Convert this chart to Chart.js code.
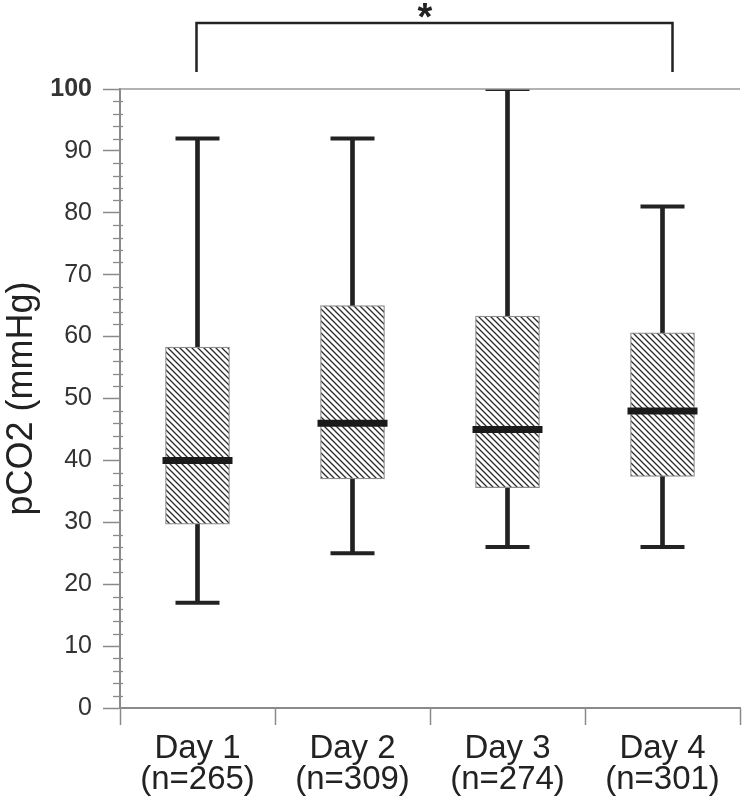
<!DOCTYPE html>
<html>
<head>
<meta charset="utf-8">
<script src="https://cdn.jsdelivr.net/npm/chart.js@4/dist/chart.umd.min.js"></script>
<style>
html,body{margin:0;padding:0;background:#fff;}
#wrap{width:742px;height:800px;position:relative;}
</style>
</head>
<body>
<div id="wrap"><canvas id="c" width="742" height="800"></canvas></div>
<script>
// ---- data ----
const categories = ['Day 1', 'Day 2', 'Day 3', 'Day 4'];
const nCounts = [265, 309, 274, 301];
const minValues = [17, 25, 26, 26];
const q1Values = [29.7, 37, 35.6, 37.4];
const medianValues = [40, 46, 45, 48];
const q3Values = [58.3, 65, 63.3, 60.6];
const maxValues = [92, 92, 100, 81];
const yTicks = [0, 10, 20, 30, 40, 50, 60, 70, 80, 90, 100];
const significanceLabel = '*';

// ---- helpers ----
function hatchPattern() {
  const s = 6;
  const c = document.createElement('canvas');
  c.width = s; c.height = s;
  const g = c.getContext('2d');
  g.fillStyle = '#ffffff';
  g.fillRect(0, 0, s, s);
  g.strokeStyle = '#2a2a2a';
  g.lineWidth = 1.3;
  g.beginPath();
  g.moveTo(-1, -1); g.lineTo(s + 1, s + 1);
  g.moveTo(-s - 1, -1); g.lineTo(1, s + 1);
  g.moveTo(s - 1, -1); g.lineTo(2 * s + 1, s + 1);
  g.stroke();
  return g.createPattern(c, 'repeat');
}

const xLabels = categories.map((c, i) => [c, '(n=' + nCounts[i] + ')']);
const whiskerRanges = categories.map((c, i) => [minValues[i], maxValues[i]]);
const boxRanges = categories.map((c, i) => [q1Values[i], q3Values[i]]);

const extras = {
  id: 'extras',
  afterDraw(chart) {
    const { ctx, chartArea: a, scales: { x, y } } = chart;
    ctx.save();
    // minor ticks on y axis
    ctx.strokeStyle = '#8a8a8a';
    ctx.lineWidth = 1.3;
    for (let v = 2; v < 100; v += 2) {
      if (v % 10 === 0) continue;
      const py = Math.round(y.getPixelForValue(v)) + 0.5;
      ctx.beginPath();
      ctx.moveTo(a.left - 7, py);
      ctx.lineTo(a.left + 3, py);
      ctx.stroke();
    }
    // top frame line
    ctx.strokeStyle = '#999';
    ctx.lineWidth = 1.5;
    ctx.beginPath();
    ctx.moveTo(a.left, a.top);
    ctx.lineTo(a.right, a.top);
    ctx.stroke();
    // significance bracket
    const x1 = x.getPixelForValue(0) - 1;
    const x2 = x.getPixelForValue(3) + 10;
    const yb = 23, yl = 72;
    ctx.strokeStyle = '#222';
    ctx.lineWidth = 2.5;
    ctx.beginPath();
    ctx.moveTo(x1, yl);
    ctx.lineTo(x1, yb);
    ctx.lineTo(x2, yb);
    ctx.lineTo(x2, yl);
    ctx.stroke();
    ctx.fillStyle = '#222';
    ctx.font = 'bold 38px "Liberation Sans", Arial, sans-serif';
    ctx.textAlign = 'center';
    ctx.textBaseline = 'alphabetic';
    ctx.fillText(significanceLabel, x1 + (x2 - x1) * 0.48, 30);
    ctx.restore();
  }
};

Chart.defaults.font.family = '"Liberation Sans", Arial, sans-serif';

new Chart(document.getElementById('c'), {
  data: {
    labels: xLabels,
    datasets: [
      {
        type: 'bar',
        label: 'whisker',
        data: whiskerRanges,
        backgroundColor: '#222',
        borderWidth: 0,
        barThickness: 4,
        grouped: false,
        order: 4
      },
      {
        type: 'bar',
        label: 'box',
        data: boxRanges,
        backgroundColor: hatchPattern(),
        borderColor: '#8c8c8c',
        borderWidth: 1.2,
        borderSkipped: false,
        barThickness: 64,
        grouped: false,
        order: 3
      },
      {
        type: 'line',
        label: 'min',
        data: minValues,
        showLine: false,
        pointStyle: 'line',
        pointRadius: 22,
        pointBorderWidth: 4,
        pointBorderColor: '#222',
        order: 2
      },
      {
        type: 'line',
        label: 'max',
        data: maxValues,
        showLine: false,
        pointStyle: 'line',
        pointRadius: 22,
        pointBorderWidth: 4,
        pointBorderColor: '#222',
        order: 2
      },
      {
        type: 'line',
        label: 'median',
        data: medianValues,
        showLine: false,
        pointStyle: 'line',
        pointRadius: 35,
        pointBorderWidth: 7,
        pointBorderColor: '#1a1a1a',
        order: 1
      }
    ]
  },
  options: {
    responsive: false,
    animation: false,
    layout: { autoPadding: false, padding: { top: 89, right: 2, left: 0, bottom: 0 } },
    plugins: { legend: { display: false }, tooltip: { enabled: false } },
    scales: {
      x: {
        type: 'category',
        offset: true,
        grid: {
          offset: true,
          drawOnChartArea: false,
          tickLength: 17,
          tickColor: '#8a8a8a',
          tickWidth: 1.5
        },
        border: { color: '#8a8a8a', width: 2 },
        ticks: {
          color: '#222',
          padding: 9,
          maxRotation: 0,
          autoSkip: false,
          font: { size: 33, lineHeight: 0.93 }
        },
        afterFit(scale) {
          scale.height = 92;
          scale.paddingLeft = 0;
          scale.paddingRight = 0;
        }
      },
      y: {
        min: 0,
        max: 100,
        afterBuildTicks(scale) { scale.ticks = yTicks.map(v => ({ value: v })); },
        grid: {
          drawOnChartArea: false,
          tickLength: 17,
          tickColor: '#8a8a8a',
          tickWidth: 1.5
        },
        border: { color: '#8a8a8a', width: 2 },
        ticks: {
          color: '#333',
          padding: 11,
          font: (ctx) => ({ size: 25, weight: (ctx.tick && ctx.tick.value === 100) ? 'bold' : 'normal' })
        },
        title: {
          display: true,
          text: 'pCO2 (mmHg)',
          color: '#222',
          font: { size: 36 },
          padding: { top: 0, bottom: 0 }
        },
        afterFit(scale) { scale.width = 120; }
      }
    }
  },
  plugins: [extras]
});
</script>
</body>
</html>
